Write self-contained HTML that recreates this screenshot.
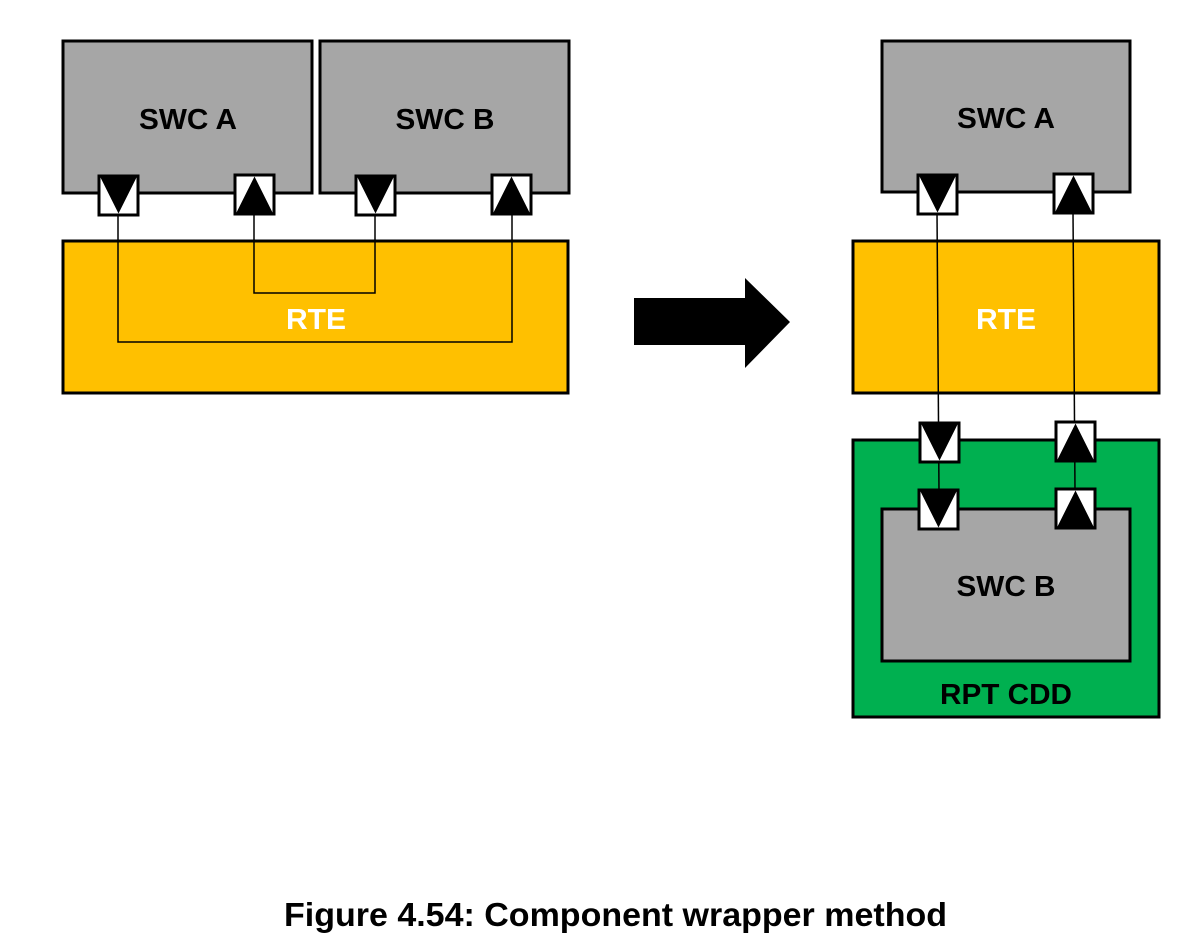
<!DOCTYPE html>
<html><head><meta charset="utf-8"><style>html,body{margin:0;padding:0;background:#fff}</style></head>
<body>
<svg width="1186" height="944" viewBox="0 0 1186 944" xmlns="http://www.w3.org/2000/svg" font-family="Liberation Sans, sans-serif" font-weight="bold">
<defs>
<g id="pd"><rect x="0" y="0" width="39" height="39" fill="#fff" stroke="#000" stroke-width="3"/><polygon points="1.5,1.5 37.5,1.5 19.5,37.5" fill="#000"/></g>
<g id="pu"><rect x="0" y="0" width="39" height="39" fill="#fff" stroke="#000" stroke-width="3"/><polygon points="1.5,37.5 37.5,37.5 19.5,1.5" fill="#000"/></g>
</defs>
<!-- left -->
<rect x="63" y="41" width="249" height="152" fill="#a6a6a6" stroke="#000" stroke-width="3"/>
<rect x="320" y="41" width="249" height="152" fill="#a6a6a6" stroke="#000" stroke-width="3"/>
<text x="188" y="129" font-size="29" text-anchor="middle" textLength="98" lengthAdjust="spacingAndGlyphs">SWC A</text>
<text x="445" y="129" font-size="29" text-anchor="middle" textLength="99" lengthAdjust="spacingAndGlyphs">SWC B</text>
<rect x="63" y="241" width="505" height="152" fill="#ffc000" stroke="#000" stroke-width="3"/>
<text x="316" y="329" font-size="29" text-anchor="middle" fill="#fff" textLength="60" lengthAdjust="spacingAndGlyphs">RTE</text>
<polyline points="254,214 254,293 375,293 375,214" fill="none" stroke="#000" stroke-width="1.5"/>
<polyline points="118,214 118,342 512,342 512,214" fill="none" stroke="#000" stroke-width="1.5"/>
<use href="#pd" x="99" y="176"/>
<use href="#pu" x="235" y="175"/>
<use href="#pd" x="356" y="176"/>
<use href="#pu" x="492" y="175"/>
<!-- arrow -->
<polygon points="634,298 745,298 745,278 790,322 745,368 745,345 634,345" fill="#000"/>
<!-- right -->
<rect x="882" y="41" width="248" height="151" fill="#a6a6a6" stroke="#000" stroke-width="3"/>
<text x="1006" y="128" font-size="29" text-anchor="middle" textLength="98" lengthAdjust="spacingAndGlyphs">SWC A</text>
<rect x="853" y="241" width="306" height="152" fill="#ffc000" stroke="#000" stroke-width="3"/>
<text x="1006" y="329" font-size="29" text-anchor="middle" fill="#fff" textLength="60" lengthAdjust="spacingAndGlyphs">RTE</text>
<rect x="853" y="440" width="306" height="277" fill="#00b050" stroke="#000" stroke-width="3"/>
<rect x="882" y="509" width="248" height="152" fill="#a6a6a6" stroke="#000" stroke-width="3"/>
<text x="1006" y="596" font-size="29" text-anchor="middle" textLength="99" lengthAdjust="spacingAndGlyphs">SWC B</text>
<text x="1006" y="704" font-size="29" text-anchor="middle" textLength="132" lengthAdjust="spacingAndGlyphs">RPT CDD</text>
<line x1="937" y1="212" x2="939" y2="492" stroke="#000" stroke-width="1.5"/>
<line x1="1073" y1="212" x2="1075" y2="490" stroke="#000" stroke-width="1.5"/>
<use href="#pd" x="918" y="175"/>
<use href="#pu" x="1054" y="174"/>
<use href="#pd" x="920" y="423"/>
<use href="#pu" x="1056" y="422"/>
<use href="#pd" x="919" y="490"/>
<use href="#pu" x="1056" y="489"/>
<text x="284" y="926" font-size="33" textLength="663" lengthAdjust="spacingAndGlyphs">Figure 4.54: Component wrapper method</text>
</svg>
</body></html>
